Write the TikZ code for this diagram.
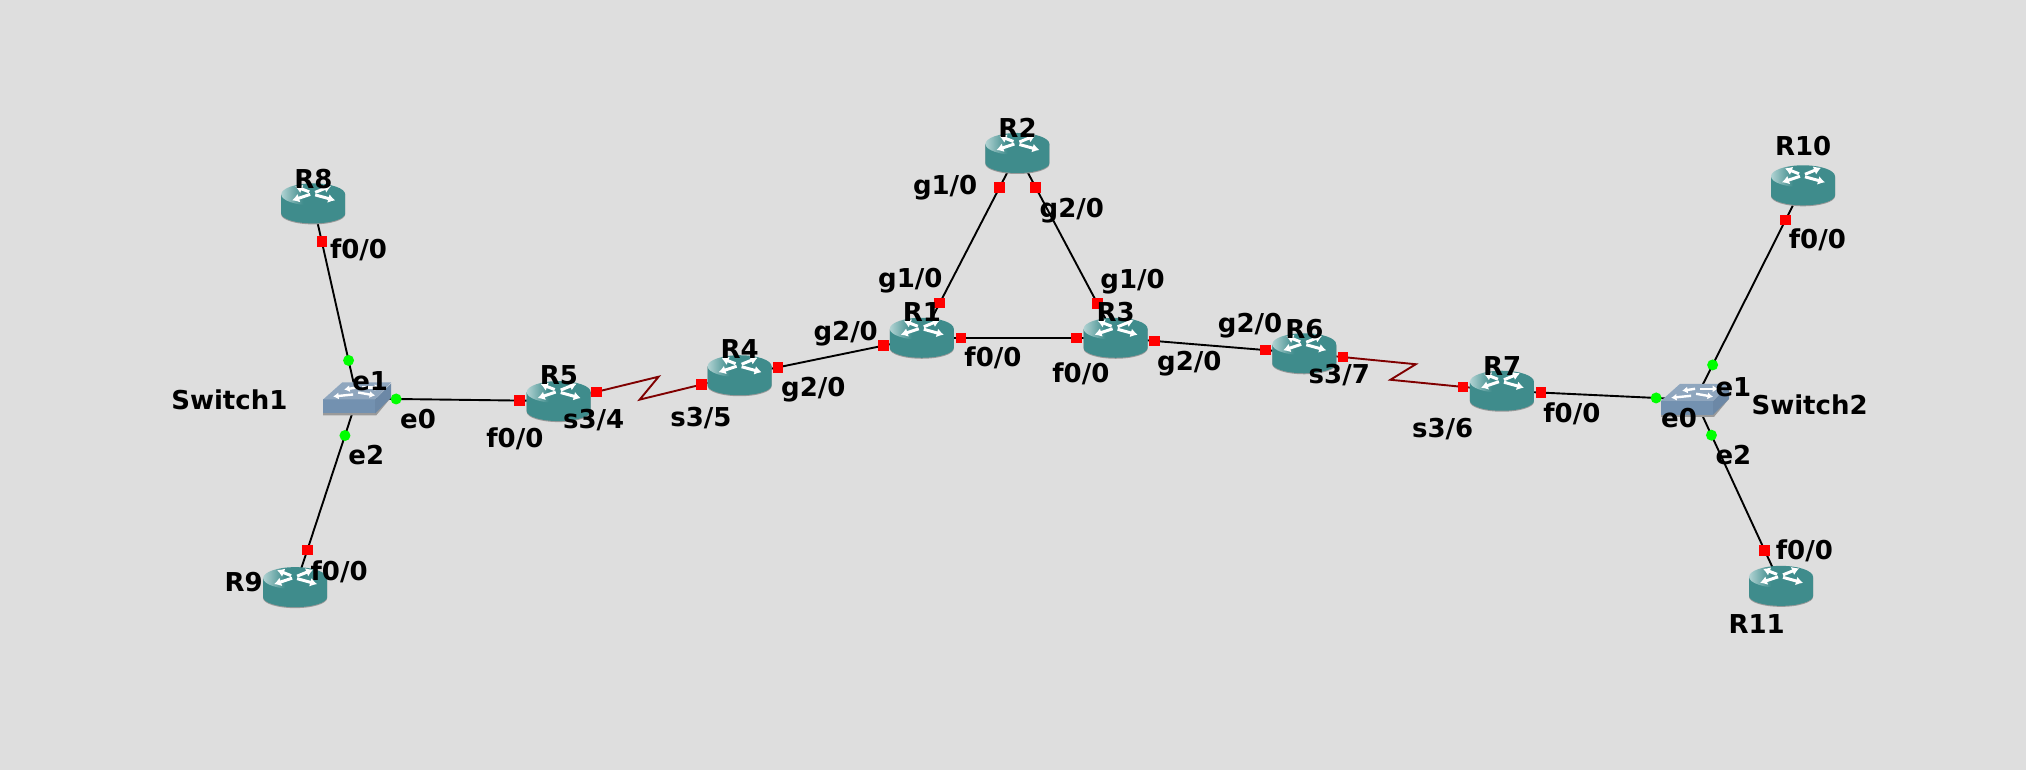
\documentclass[tikz,border=0pt]{standalone}
\usepackage{fontspec}
\setmainfont{DejaVu Sans}
\usetikzlibrary{calc,arrows.meta}
\definecolor{bgc}{HTML}{DEDEDE}
\definecolor{rteal}{HTML}{3F8C8C}
\definecolor{rlight}{HTML}{B0D2D2}
\definecolor{rshadow}{HTML}{9A9A9A}
\definecolor{swtop}{HTML}{8FA6BE}
\definecolor{swfront}{HTML}{7391B0}
\definecolor{swside}{HTML}{6C88A6}
\definecolor{serialc}{HTML}{800000}
\pgfdeclarehorizontalshading{routertop}{100bp}{color(0bp)=(rlight);color(25bp)=(rlight);color(42bp)=(rteal);color(100bp)=(rteal)}
\tikzset{
  lnk/.style={black,line width=1.9pt},
  seriallnk/.style={serialc,line width=1.9pt},
  redmark/.style={fill=red,draw=none,minimum size=10.5pt,inner sep=0pt,rectangle},
  greenmark/.style={fill=green,draw=none,minimum size=11pt,inner sep=0pt,circle},
  lbl/.style={inner sep=0pt,font=\bfseries\fontsize{26pt}{28pt}\selectfont,text=black},
  rarr/.style={white,line width=3pt,-{Latex[length=7pt,width=9pt]}},
  sarr/.style={white,line width=2.4pt,-{Latex[length=5.5pt,width=7pt]}},
  router/.pic={
    \begin{scope}[x=1pt,y=-1pt]
      \fill[rshadow] (-32,-8) -- (32,-8) -- (32,11) arc[start angle=0,end angle=180,x radius=32,y radius=10] -- cycle;
      \fill[rteal] (-32,-9) -- (32,-9) -- (32,10) arc[start angle=0,end angle=180,x radius=32,y radius=10] -- cycle;
      \shade[shading=routertop] (0,-9) ellipse[x radius=32,y radius=11];
      \draw[rarr] (-4,-11.5) -- (-18,-17);
      \draw[rarr] (2,-11) -- (18,-17.5);
      \draw[rarr] (-3,-9) -- (-21,-3);
      \draw[rarr] (2,-8.5) -- (22,-3);
    \end{scope}
  },
  switchicon/.pic={
    \begin{scope}[x=1pt,y=-1pt]
      \fill[rshadow] (-34,3) -- (18,3) -- (34,-1) -- (19,17) -- (-34,17) -- cycle;
      \fill[swfront] (-34,1) -- (18,1) -- (18,15) -- (-34,15) -- cycle;
      \fill[swside] (18,1) -- (34,-15) -- (34,-1) -- (18,15) -- cycle;
      \fill[swtop] (-34,1) -- (-15,-16) -- (34,-16) -- (18,1) -- cycle;
      \draw[sarr] (0,-11) -- (-13,-9);
      \draw[sarr] (5,-11) -- (23,-11);
      \draw[sarr] (-4,-4) -- (-24,-2);
      \draw[sarr] (1,-6) -- (18,-3);
    \end{scope}
  }
}
% a link from node to node with its two end markers
\newcommand{\netlink}[4]{%
  \draw[lnk] (#1) -- (#2);
  \node[#3] at ($(#1)!39pt!(#2)$) {};
  \node[#4] at ($(#2)!39pt!(#1)$) {};
}
% a serial link: its markers sit on the first and last legs of the zigzag
\newcommand{\seriallink}[2]{%
  \coordinate (zu) at ($(#1)!.5!(#2)!11pt!(#2)!10pt!90:(#2)$);
  \coordinate (zd) at ($(#1)!.5!(#2)!-11pt!(#2)!-10pt!90:(#2)$);
  \draw[seriallnk,line join=miter] (#1) -- (zu) -- (zd) -- (#2);
  \node[redmark] at ($(#1)!39pt!(zu)$) {};
  \node[redmark] at ($(#2)!39pt!(zd)$) {};
}
\begin{document}
\begin{tikzpicture}[x=1.2921pt,y=-1.2921pt]
\useasboundingbox[fill=bgc] (0,0) rectangle (1568,595.9);
\begin{scope}[shift={(0.4,0.4)}]
\coordinate (R8) at (242,157);
\coordinate (R9) at (228,454);
\coordinate (SW1) at (276,308);
\coordinate (R5) at (432,310);
\coordinate (R4) at (572,290);
\coordinate (R1) at (713,261);
\coordinate (R2) at (787,118);
\coordinate (R3) at (863,261);
\coordinate (R6) at (1009,273);
\coordinate (R7) at (1162,302);
\coordinate (SW2) at (1311.5,309);
\coordinate (R10) at (1395,143);
\coordinate (R11) at (1378,453);

\netlink{R8}{SW1}{redmark}{greenmark}
\netlink{R9}{SW1}{redmark}{greenmark}
\netlink{SW1}{R5}{greenmark}{redmark}
\seriallink{R5}{R4}
\netlink{R4}{R1}{redmark}{redmark}
\netlink{R1}{R2}{redmark}{redmark}
\netlink{R2}{R3}{redmark}{redmark}
\netlink{R1}{R3}{redmark}{redmark}
\netlink{R3}{R6}{redmark}{redmark}
\seriallink{R6}{R7}
\netlink{R7}{SW2}{redmark}{greenmark}
\netlink{R10}{SW2}{redmark}{greenmark}
\netlink{R11}{SW2}{redmark}{greenmark}

\foreach \r in {R8,R9,R5,R4,R1,R2,R3,R6,R7,R10,R11} {\pic at (\r) {router};}
\pic at (SW1) {switchicon};
\pic at (SW2) {switchicon};
\end{scope}

\begin{scope}[shift={(0.5,0.3)}]
\node[lbl] (t1) at (242,138) {R8};
\node[lbl] (t2) at (277,193) {f0/0};
\node[lbl] (t3) at (286,295) {e1};
\node[lbl] (t4) at (177,309) {Switch1};
\node[lbl] (t5) at (323,324) {e0};
\node[lbl] (t6) at (283,352) {e2};
\node[lbl] (t7) at (188,450) {R9};
\node[lbl] (t8) at (262,442) {f0/0};
\node[lbl] (t9) at (398,339) {f0/0};
\node[lbl] (t10) at (432,290) {R5};
\node[lbl] (t11) at (459,325) {s3/4};
\node[lbl] (t12) at (542,323) {s3/5};
\node[lbl] (t13) at (572,270) {R4};
\node[lbl] (t14) at (654,258) {g2/0};
\node[lbl] (t15) at (629,301) {g2/0};
\node[lbl] (t16) at (713,241) {R1};
\node[lbl] (t17) at (768,277) {f0/0};
\node[lbl] (t18) at (704,217) {g1/0};
\node[lbl] (t19) at (731,145) {g1/0};
\node[lbl] (t20) at (787,99) {R2};
\node[lbl] (t21) at (829,162.5) {g2/0};
\node[lbl] (t22) at (876,218) {g1/0};
\node[lbl] (t23) at (863,241) {R3};
\node[lbl] (t24) at (836,289) {f0/0};
\node[lbl] (t25) at (920,281) {g2/0};
\node[lbl] (t26) at (967,252) {g2/0};
\node[lbl] (t27) at (1009,254) {R6};
\node[lbl] (t28) at (1036,290) {s3/7};
\node[lbl] (t29) at (1116,332) {s3/6};
\node[lbl] (t30) at (1162,283) {R7};
\node[lbl] (t31) at (1216,320) {f0/0};
\node[lbl] (t32) at (1299,323) {e0};
\node[lbl] (t33) at (1341,299) {e1};
\node[lbl] (t34) at (1400,313) {Switch2};
\node[lbl] (t35) at (1341,352) {e2};
\node[lbl] (t36) at (1396,426) {f0/0};
\node[lbl] (t37) at (1359,483) {R11};
\node[lbl] (t38) at (1406,185) {f0/0};
\node[lbl] (t39) at (1395,113) {R10};
\end{scope}
\end{tikzpicture}
\end{document}
